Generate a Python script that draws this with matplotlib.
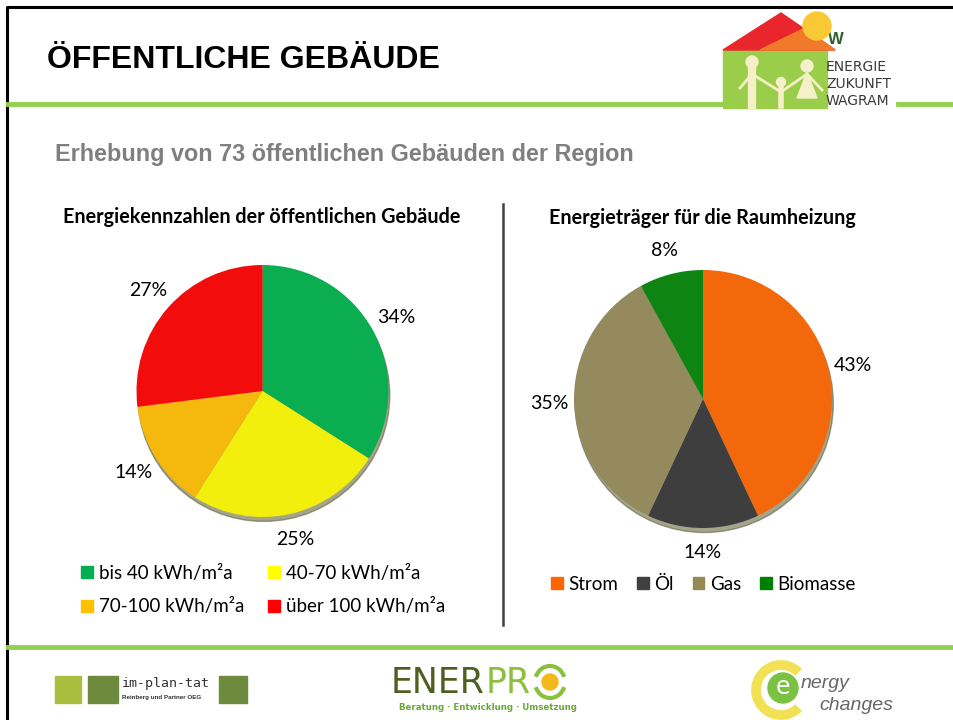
import numpy as np
import matplotlib.pyplot as plt
from matplotlib.patches import Circle, Polygon, Rectangle, Arc, Patch

# data
left_names = ['bis 40 kWh/m²a', '40-70 kWh/m²a', '70-100 kWh/m²a', 'über 100 kWh/m²a']
left_values = [34, 25, 14, 27]
left_colors = ['#0aad50', '#f2ef0c', '#f5b80c', '#f20c0c']
left_legend_colors = ['#00b050', '#ffff00', '#ffc000', '#ff0000']

right_names = ['Strom', 'Öl', 'Gas', 'Biomasse']
right_values = [43, 14, 35, 8]
right_colors = ['#f2680a', '#3e3e3e', '#948a5e', '#0e8512']
right_legend_colors = ['#ff6600', '#404040', '#948a54', '#008000']

W, H = 954, 720
fig = plt.figure(figsize=(W / 100, H / 100), dpi=100)
fig.patch.set_facecolor('white')

# background axes in pixel coordinates
bg = fig.add_axes([0, 0, 1, 1])
bg.set_xlim(0, W)
bg.set_ylim(H, 0)
bg.axis('off')

# slide frame and green rules
bg.plot([7, 7, W], [H, 7, 7], color='black', lw=2.2)
bg.plot([8, 722], [104, 104], color='#92d050', lw=3.5)
bg.plot([898, W], [104, 104], color='#92d050', lw=3.5)
bg.plot([8, W], [647, 647], color='#92d050', lw=3.5)
bg.plot([503, 503], [204, 625], color='#404040', lw=1.8)

# titles
bg.text(47, 60, 'ÖFFENTLICHE GEBÄUDE', family='Liberation Sans', weight='bold',
        fontsize=23, va='center', ha='left', color='black')
bg.text(55, 155, 'Erhebung von 73 öffentlichen Gebäuden der Region', family='Liberation Sans',
        weight='bold', fontsize=16.8, va='center', ha='left', color='#7f7f7f')
bg.text(262, 217, 'Energiekennzahlen der öffentlichen Gebäude', family='Lato', weight='bold',
        fontsize=14.2, va='center', ha='center', color='black')
bg.text(702, 218, 'Energieträger für die Raumheizung', family='Lato', weight='bold',
        fontsize=14.2, va='center', ha='center', color='black')

# house logo
bg.add_patch(Rectangle((723, 50), 104, 58, color='#9acd4a', zorder=2))
bg.add_patch(Polygon([[723, 50], [781, 13], [835, 50]], color='#e8262b', zorder=3))
bg.add_patch(Polygon([[760, 50], [805, 28], [835, 50]], color='#f07a2a', zorder=3))
bg.add_patch(Circle((817, 26), 14, color='#f9c935', zorder=3.5))
for cx, cy, r in [(752, 62, 6), (781, 82, 4.5), (807, 66, 6)]:
    bg.add_patch(Circle((cx, cy), r, color='#f5f0c8', zorder=4))
bg.plot([752, 752], [68, 106], color='#f5f0c8', lw=6, zorder=4)
bg.plot([781, 781], [86, 106], color='#f5f0c8', lw=4, zorder=4)
bg.add_patch(Polygon([[807, 72], [797, 98], [817, 98]], color='#f5f0c8', zorder=4))
bg.plot([740, 752, 781, 807, 822], [88, 74, 92, 74, 90], color='#f5f0c8', lw=2, zorder=4)
bg.text(836, 40, 'W', family='Liberation Sans', weight='bold', fontsize=12,
        color='#2f5f2a', ha='center', va='center')
for i, t in enumerate(['ENERGIE', 'ZUKUNFT', 'WAGRAM']):
    bg.text(826, 67 + i * 17, t, family='Liberation Sans Narrow', fontsize=10,
            color='#3a3a3a', ha='left', va='center')

# bottom logos
bg.add_patch(Rectangle((55, 676), 26, 27, color='#a8be3c'))
bg.add_patch(Rectangle((88, 676), 30, 27, color='#6e8b3d'))
bg.add_patch(Rectangle((219, 676), 28, 27, color='#6e8b3d'))
bg.text(122, 684, 'im-plan-tat', family='DejaVu Sans Mono', fontsize=9.5, color='#333333', va='center')
bg.text(122, 697, 'Reinberg und Partner OEG', family='Liberation Sans', weight='bold',
        fontsize=4.5, color='#333333', va='center')

bg.text(485, 683, 'ENER', family='Liberation Sans Narrow', fontsize=25, color='#4f5f20',
        va='center', ha='right')
bg.text(486, 683, 'PR', family='Liberation Sans Narrow', fontsize=25, color='#8dbf3f',
        va='center', ha='left')
bg.add_patch(Circle((550, 682), 8, color='#f5b81c'))
bg.add_patch(Arc((550, 682), 30, 32, theta1=20, theta2=160, color='#8dbf3f', lw=3))
bg.add_patch(Arc((550, 682), 30, 32, theta1=200, theta2=340, color='#8dbf3f', lw=3))
bg.text(488, 707, 'Beratung · Entwicklung · Umsetzung', family='Liberation Sans Narrow',
        fontsize=6.2, color='#6aa83a', va='center', ha='center', weight='bold')

bg.add_patch(Arc((781, 690), 50, 50, theta1=45, theta2=315, color='#f2e055', lw=7))
bg.add_patch(Circle((783, 688), 15, color='#7cc242'))
bg.text(783, 687, 'e', family='DejaVu Sans', fontsize=17, color='white', ha='center', va='center')
bg.text(801, 684, 'nergy', family='Liberation Sans', style='italic', fontsize=14,
        color='#666666', va='center')
bg.text(819, 705, 'changes', family='Liberation Sans', style='italic', fontsize=14,
        color='#666666', va='center')


def pie_axes(cx, cy, R, pad=1.5):
    size = 2 * R * pad
    ax = fig.add_axes([(cx - size / 2) / W, (H - cy - size / 2) / H, size / W, size / H])
    ax.axis('off')
    return ax


def draw_pie(ax, values, colors, ldist):
    ax.add_patch(Circle((0.01, -0.035), 1.0, color='#5a5a30', alpha=0.55, zorder=0))
    wedges, texts = ax.pie(values, colors=colors, startangle=90, counterclock=False,
                           labels=[f'{v}%' for v in values], labeldistance=ldist,
                           radius=1.0, wedgeprops=dict(linewidth=0),
                           textprops=dict(family='Lato', fontsize=14, color='black'))
    ax.set_xlim(-1.5, 1.5)
    ax.set_ylim(-1.5, 1.5)
    ax.set_aspect('equal')
    for t in texts:
        t.set_ha('center')
        t.set_va('center')
    return wedges


ax1 = pie_axes(262.5, 391, 126)
w1 = draw_pie(ax1, left_values, left_colors, 1.21)

ax2 = pie_axes(703, 399, 129)
w2 = draw_pie(ax2, right_values, right_colors, 1.19)

# legends
h1 = [Patch(color=c) for c in left_legend_colors]
order = [0, 2, 1, 3]
fig.legend([h1[i] for i in order], [left_names[i] for i in order], ncol=2,
           loc='center left', bbox_to_anchor=(72 / W, 1 - 590 / H), frameon=False,
           prop=dict(family='Lato', size=13.5), handlelength=0.62, handleheight=0.62,
           handletextpad=0.3, columnspacing=1.3, labelspacing=0.9, borderpad=0)

h2 = [Patch(color=c) for c in right_legend_colors]
fig.legend(h2, right_names, ncol=4, loc='center left', bbox_to_anchor=(542 / W, 1 - 584 / H),
           frameon=False, prop=dict(family='Lato', size=13.5), handlelength=0.62,
           handleheight=0.62, handletextpad=0.3, columnspacing=1.0, borderpad=0)

fig.savefig('out.png', dpi=100)
